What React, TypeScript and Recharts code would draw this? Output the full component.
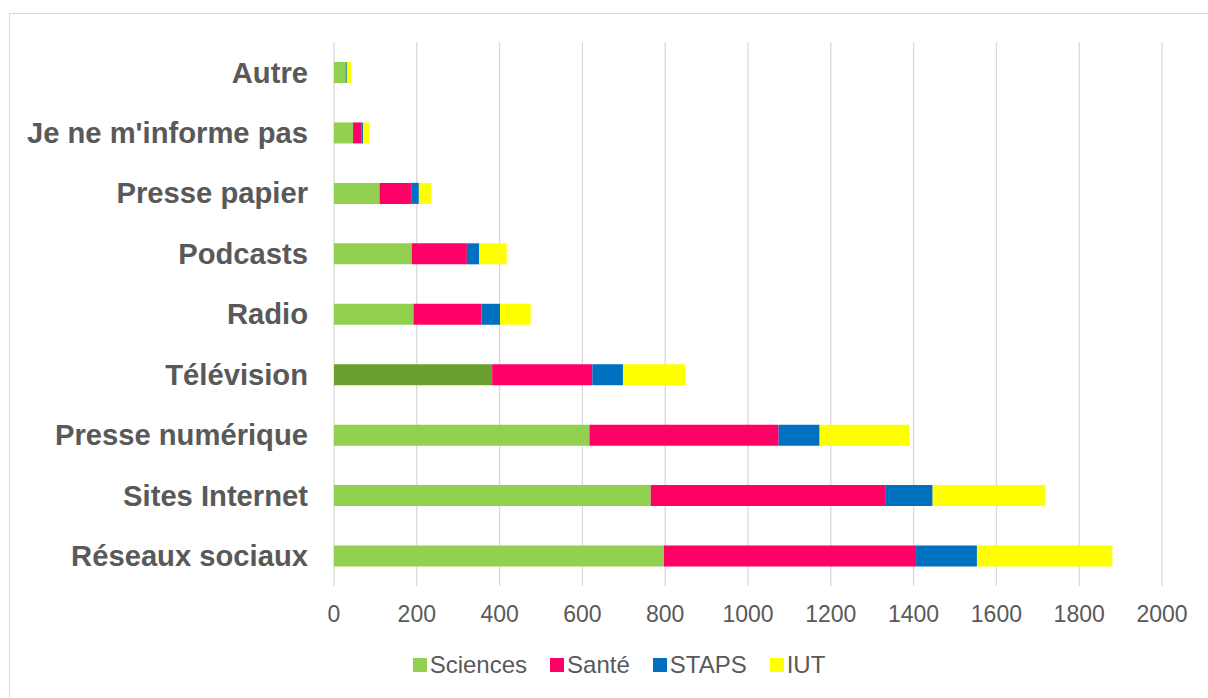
import React from "react";
import { BarChart, Bar, XAxis, YAxis, CartesianGrid, Legend, Cell } from "recharts";

const categories = [
  "Autre",
  "Je ne m'informe pas",
  "Presse papier",
  "Podcasts",
  "Radio",
  "Télévision",
  "Presse numérique",
  "Sites Internet",
  "Réseaux sociaux",
];
const sciences = [28, 46, 110, 188, 192, 382, 617, 765, 797];
const sante = [1, 20, 78, 133, 164, 242, 457, 568, 609];
const staps = [2, 4, 17, 30, 45, 74, 99, 113, 147];
const iut = [10, 15, 30, 66, 74, 150, 217, 272, 327];
const xTicks = [0, 200, 400, 600, 800, 1000, 1200, 1400, 1600, 1800, 2000];

const seriesNames = ["Sciences", "Santé", "STAPS", "IUT"];
const seriesColors = ["#92d050", "#ff0066", "#0070c0", "#ffff00"];
const highlightColor = "#6aa12e";
const highlightCategory = "Télévision";

const data = categories.map((c, i) => ({
  name: c,
  Sciences: sciences[i],
  "Santé": sante[i],
  STAPS: staps[i],
  IUT: iut[i],
}));

const FONT = "'Liberation Sans', Arial, sans-serif";
const TEXT = "#595959";

const LegendContent = () => (
  <div
    style={{
      display: "flex",
      justifyContent: "center",
      alignItems: "center",
      height: 28,
      fontFamily: FONT,
      fontSize: 24,
      color: TEXT,
    }}
  >
    {seriesNames.map((n, i) => (
      <div key={n} style={{ display: "flex", alignItems: "center", marginRight: i < seriesNames.length - 1 ? 23 : 0 }}>
        <div style={{ width: 14, height: 14, background: seriesColors[i], marginRight: 3 }} />
        <span>{n}</span>
      </div>
    ))}
  </div>
);

export default function App() {
  return (
    <div style={{ position: "absolute", left: 0, top: 0, width: 1208, height: 698, overflow: "hidden", background: "#fff" }}>
      <div
        style={{
          position: "absolute",
          left: 9,
          top: 13,
          width: 1218,
          height: 700,
          border: "1px solid #d9d9d9",
          background: "#fff",
        }}
      >
        <BarChart
          width={1218}
          height={684}
          data={data}
          layout="vertical"
          margin={{ top: 28, right: 66, bottom: 72, left: 0 }}
          barSize={21}
        >
          <CartesianGrid horizontal={false} vertical={true} stroke="#d9d9d9" strokeWidth={1.3} />
          <XAxis
            type="number"
            domain={[0, 2000]}
            ticks={xTicks}
            interval={0}
            axisLine={false}
            tickLine={false}
            tickSize={0}
            tickMargin={20}
            height={40}
            tick={{ fill: TEXT, fontSize: 23, fontFamily: FONT }}
          />
          <YAxis
            type="category"
            dataKey="name"
            width={324}
            axisLine={false}
            tickLine={false}
            tickSize={0}
            tickMargin={26}
            interval={0}
            tick={{ fill: TEXT, fontSize: 29.2, fontFamily: FONT, fontWeight: "bold" }}
          />
          <Legend
            layout="horizontal"
            verticalAlign="middle"
            align="center"
            wrapperStyle={{ top: 637, left: 0, width: 1218, height: 28 }}
            content={LegendContent}
          />
          <Bar dataKey="Sciences" stackId="a" fill={seriesColors[0]} isAnimationActive={false}>
            {data.map((d) => (
              <Cell key={d.name} fill={d.name === highlightCategory ? highlightColor : seriesColors[0]} />
            ))}
          </Bar>
          <Bar dataKey="Santé" stackId="a" fill={seriesColors[1]} isAnimationActive={false} />
          <Bar dataKey="STAPS" stackId="a" fill={seriesColors[2]} isAnimationActive={false} />
          <Bar dataKey="IUT" stackId="a" fill={seriesColors[3]} isAnimationActive={false} />
        </BarChart>
      </div>
    </div>
  );
}
